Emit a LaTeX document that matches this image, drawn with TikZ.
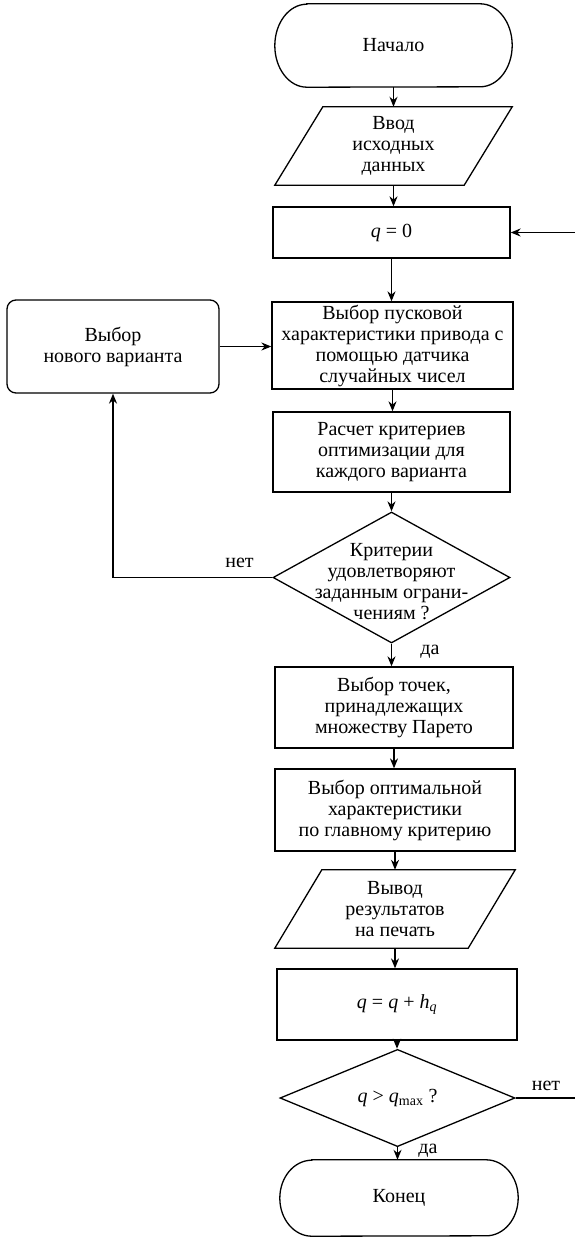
\documentclass[tikz,border=0pt]{standalone}
\usepackage{fontspec}
\setmainfont{Liberation Serif}
\usetikzlibrary{arrows.meta,shapes.geometric}
\begin{document}
\begin{tikzpicture}[x=1pt,y=-1pt,
  every node/.style={font=\fontsize{20}{21}\selectfont, inner sep=0pt, align=center},
  ln/.style={line width=1.3pt},
  arr/.style={ln, -{Stealth[length=10pt,width=8pt]}},
  box/.style={draw, ln},
  rbox/.style={draw, ln, rounded corners=9pt},
  dia/.style={draw, ln, diamond},
  ghost/.style={draw=none}]
\useasboundingbox (0,0) rectangle (575,1239);

% nodes
\node[ghost, minimum width=237pt, minimum height=83pt] (start) at (393.5,45.5) {Начало};
\node[ghost, minimum width=237pt, minimum height=78pt] (in) at (393.5,146) {Ввод\\исходных\\данных};
\node[box, minimum width=237pt, minimum height=51pt] (q0) at (391.5,232.5) {\textit{q} = 0};
\node[box, minimum width=241pt, minimum height=87pt] (sel) at (392.5,345.5) {Выбор пусковой\\характеристики привода с\\помощью датчика\\случайных чисел};
\node[rbox, minimum width=212pt, minimum height=93pt] (new) at (113,346.5) {Выбор\\нового варианта};
\node[box, minimum width=237pt, minimum height=80pt] (calc) at (391.5,452) {Расчет критериев\\оптимизации для\\каждого варианта};
\node[dia, minimum width=237pt, minimum height=131pt] (dec1) at (391.5,577.5) {};
\node (dec1t) at (391.5,582) {Критерии\\удовлетворяют\\заданным ограни-\\чениям ?};
\node[box, minimum width=238pt, minimum height=81pt] (par) at (394,707.5) {Выбор точек,\\принадлежащих\\множеству Парето};
\node[box, minimum width=240pt, minimum height=82pt] (opt) at (395,810) {Выбор оптимальной\\характеристики\\по главному критерию};
\node[ghost, minimum width=240pt, minimum height=78pt] (out) at (395,909) {Вывод\\результатов\\на печать};
\node[box, minimum width=240pt, minimum height=71pt] (inc) at (397,1004.5) {\textit{q} = \textit{q} + \textit{h}\textsubscript{\textit{q}}};
\node[dia, minimum width=235pt, minimum height=80pt] (dec2) at (397.5,1098) {\textit{q} > \textit{q}\textsubscript{max} ?};
\node[ghost, minimum width=238pt, minimum height=76pt] (end) at (399,1198) {Конец};

% custom outlines
\draw[ln] ([xshift=32pt]start.north west) -- ([xshift=-32pt]start.north east)
  arc[start angle=90,end angle=-90,x radius=32pt,y radius=41.5pt]
  -- ([xshift=32pt]start.south west)
  arc[start angle=270,end angle=90,x radius=32pt,y radius=41.5pt] -- cycle;
\draw[ln] ([xshift=32pt]end.north west) -- ([xshift=-32pt]end.north east)
  arc[start angle=90,end angle=-90,x radius=32pt,y radius=38pt]
  -- ([xshift=32pt]end.south west)
  arc[start angle=270,end angle=90,x radius=32pt,y radius=38pt] -- cycle;
\draw[ln] (in.south west) -- ([xshift=-48pt]in.south east) -- (in.north east)
  -- ([xshift=48pt]in.north west) -- cycle;
\draw[ln] (out.south west) -- ([xshift=-47pt]out.south east) -- (out.north east)
  -- ([xshift=47pt]out.north west) -- cycle;

% connectors
\draw[arr] (start.south) -- (start.south |- in.north);
\draw[arr] (in.south) -- (in.south |- q0.north);
\draw[arr] (q0.south) -- (q0.south |- sel.north);
\draw[arr] (sel.south) -- (sel.south |- calc.north);
\draw[arr] (calc.south) -- (calc.south |- dec1.north);
\draw[arr] (dec1.south) -- (dec1.south |- par.north);
\draw[arr] (par.south) -- (par.south |- opt.north);
\draw[arr] (opt.south) -- (opt.south |- out.north);
\draw[arr] (out.south) -- (out.south |- inc.north);
\draw[arr] (inc.south) -- (inc.south |- dec2.north);
\draw[arr] (dec2.south) -- (dec2.south |- end.north);
\draw[arr] (dec1.west) -| (new.south);
\draw[arr] (new.east) -- (new.east -| sel.west);
\coordinate (r1) at (575,1098);
\draw[ln] (dec2.east) -- (r1);
\coordinate (r2) at (575,232.5);
\draw[arr] (r2) -- (q0.east);

% labels
\node (no1) at (239.5,562.5) {нет};
\node (yes1) at (430,652) {да};
\node (no2) at (546,1086) {нет};
\node (yes2) at (428,1151) {да};
\end{tikzpicture}
\end{document}
